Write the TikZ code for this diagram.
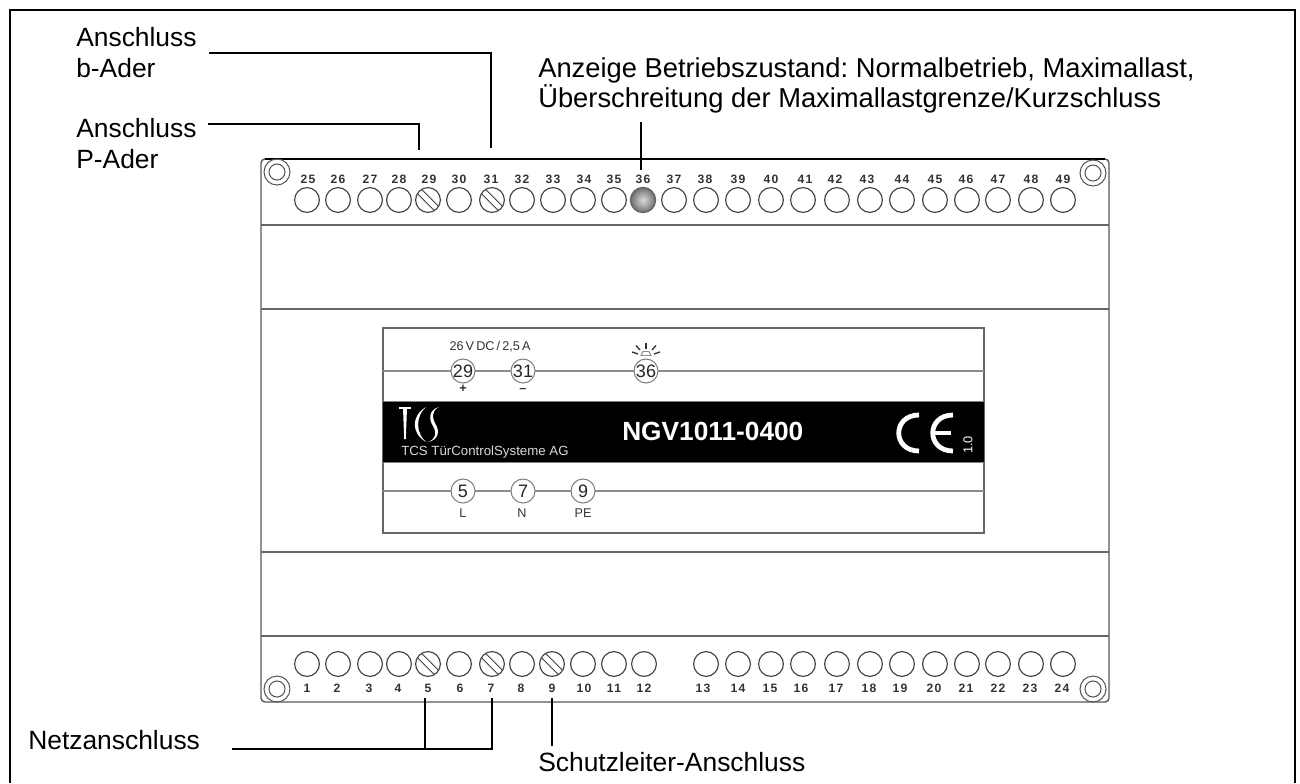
\documentclass[tikz,border=0pt]{standalone}
\usepackage{fontspec}
\setmainfont{Liberation Sans}
\newfontfamily\numf[LetterSpace=10.0]{Liberation Sans}
\tikzset{
  x=0.75pt,y=-0.75pt,
  caption/.style={anchor=north west,inner sep=0,align=left,font=\fontsize{19.8}{22.8}\selectfont},
  leader/.style={line width=1.1pt,black},
  terminal/.style={circle,draw=black!75,line width=0.85pt,minimum size=18.6pt,inner sep=0},
  termno/.style={inner sep=0,anchor=base,font=\numf\bfseries\fontsize{9.1}{9}\selectfont,text=black!80},
  slot/.style={line width=0.7pt,black!75},
  sepline/.style={line width=1.05pt,black!60},
  panelline/.style={line width=0.8pt,black!45},
  panelcirc/.style={circle,draw=black!50,fill=white,line width=0.8pt,minimum size=18pt,inner sep=0,font=\fontsize{13.5}{13.5}\selectfont,text=black!85},
  paneltext/.style={inner sep=0,font=\fontsize{9.5}{10}\selectfont,text=black!80},
  hole/.style={circle,draw=black!65,line width=0.8pt,inner sep=0},
  logo/.style={draw=white,line width=1.2pt},
}
\newcommand{\slotlines}[1]{%
  \draw[slot] ([shift={(-6.5,-10.7)}]#1.center) -- ([shift={(10.7,6.5)}]#1.center);
  \draw[slot] ([shift={(-10.7,-6.5)}]#1.center) -- ([shift={(6.5,10.7)}]#1.center);
}
\begin{document}
\begin{tikzpicture}
\useasboundingbox (0,0) rectangle (1300,783);
\fill[white] (0,0) rectangle (1300,783);
% outer frame (open at the bottom)
\coordinate (fa) at (10,783);
\coordinate (fb) at (10,10);
\coordinate (fc) at (1295,10);
\coordinate (fd) at (1295,783);
\draw[line width=1.4pt,black] (fa) -- (fb) -- (fc) -- (fd);
% body
\draw[line width=1.05pt,black!65,rounded corners=3pt] (261,159) rectangle (1109,702);
\draw[line width=1.05pt,black] (265,159) -- (1105,159);
\draw[sepline] (261,225) -- (1109,225);
\draw[sepline] (261,309) -- (1109,309);
\draw[sepline] (261,552) -- (1109,552);
\draw[sepline] (261,636) -- (1109,636);
% mounting holes
\foreach \n/\x/\y in {a/277/172,b/1093/173,c/277/689,d/1093/689}{
  \node[hole,minimum size=19.5pt] (ho\n) at (\x,\y) {};
  \node[hole,minimum size=12pt] (hi\n) at (\x,\y) {};
}
% top terminals
\foreach \n/\x/\lx in {25/307/308,26/338/338,27/370/370,28/399/399,29/428/429,30/459/459,31/492/491,32/522/522,33/553/553,34/583/584,35/614/614,37/674/674,38/706/705,39/738/738,40/771/771,41/803/805,42/837/835,43/870/867,44/902/902,45/935/935,46/967/966,47/998/998,48/1031/1031,49/1063/1063}{
  \node[terminal] (t\n) at (\x,200) {};
  \node[termno] (n\n) at (\lx,183) {\n};
}
\node[termno] (n36) at (643,183) {36};
\shade[inner color=black!15,outer color=black!55] (643,200) circle (9.2pt);
\node[circle,draw=black!60,line width=1.2pt,minimum size=18.6pt,inner sep=0] (t36) at (643,200) {};
% bottom terminals
\foreach \n/\x/\lx in {1/307/307,2/338/337,3/370/369,4/399/398,5/428/428,6/459/460,7/492/491,8/522/521,9/552/552,10/583/584,11/614/614,12/644/644,13/706/703,14/738/738,15/771/770,16/803/801,17/837/836,18/870/869,19/902/900,20/935/934,21/967/966,22/998/998,23/1031/1030,24/1063/1062}{
  \node[terminal] (b\n) at (\x,664) {};
  \node[termno] (m\n) at (\lx,692) {\n};
}
\slotlines{t29}\slotlines{t31}\slotlines{b5}\slotlines{b7}\slotlines{b9}
% label panel
\draw[line width=0.9pt,black!60] (383,328) rectangle (984,533);
\draw[panelline] (383,371) -- (984,371);
\draw[panelline] (383,491) -- (984,491);
\fill[black] (383,401) rectangle (984,462);
\draw[line width=0.6pt,black!50] (383,401) -- (984,401) (383,462) -- (984,462);
\node[panelcirc] (p29) at (463,371) {29};
\node[panelcirc] (p31) at (523,371) {31};
\node[panelcirc] (p36) at (646,371) {36};
\node[panelcirc] (p5) at (463,491) {5};
\node[panelcirc] (p7) at (523,491) {7};
\node[panelcirc] (p9) at (583,491) {9};
\node[paneltext,anchor=base] (volt) at (490,350) {26\,V\,DC\,/\,2,5\,A};
\node[paneltext,font=\bfseries\fontsize{9.5}{10}\selectfont] (plus) at (463,389) {+};
\node[paneltext,font=\bfseries\fontsize{9.5}{10}\selectfont] (minus) at (523,390) {–};
\node[paneltext,anchor=base] (lL) at (463,517) {L};
\node[paneltext,anchor=base] (lN) at (522,517) {N};
\node[paneltext,anchor=base] (lPE) at (583,517) {PE};
% lamp symbol
\draw[line width=0.7pt,black!45] (641,355.5) -- (643,351.5) -- (649,351.5) -- (651,355.5) -- cycle;
\draw[line width=1pt,black!80] (646,343) -- (646,349);
\draw[line width=1pt,black!80] (636,345.5) -- (640,350);
\draw[line width=1pt,black!80] (656,345.5) -- (652,350);
\draw[line width=1pt,black!80] (632,352) -- (638,354);
\draw[line width=1pt,black!80] (660,352) -- (654,354);
% logo and band text
\draw[logo] (399,408) -- (411,408);
\fill[white] (403,408) -- (407,408) -- (405.8,439) -- (404.2,439) -- cycle;
\fill[white] (426,407) .. controls (411,416) and (411,433) .. (426,442) .. controls (415.5,433) and (415.5,416) .. (426,407) -- cycle;
\fill[white] (439,407) .. controls (428,410) and (429,420) .. (433,426) .. controls (437,433) and (436,439) .. (428,442) .. controls (438,440) and (440,432) .. (436,425) .. controls (432,418) and (431,411) .. (439,407) -- cycle;
\node[inner sep=0,anchor=base west,text=black!15,font=\fontsize{9.95}{10}\selectfont] (firm) at (401,455) {TCS TürControlSysteme AG};
\node[inner sep=0,anchor=base west,text=white,font=\bfseries\fontsize{19.7}{20}\selectfont] (model) at (622,440) {NGV1011-0400};
\draw[white,line width=3.6pt] (919,415) .. controls (892,415) and (892,451) .. (919,451);
\draw[white,line width=3.6pt] (953,415) .. controls (926,415) and (926,451) .. (953,451);
\draw[white,line width=2.6pt] (933,433) -- (951,433);
\node[inner sep=0,rotate=90,text=white,font=\fontsize{9.6}{10}\selectfont] (rev) at (968,445) {1.0};
% captions
\node[caption,font=\fontsize{19.8}{23.2}\selectfont] (capb) at (76,27) {Anschluss\\b-Ader};
\node[caption] (capp) at (76,118.5) {Anschluss\\P-Ader};
\node[caption,font=\frenchspacing\fontsize{20.5}{22.6}\selectfont] (capled) at (538,57) {Anzeige Betriebszustand: Normalbetrieb, Maximallast,\\Überschreitung der Maximallastgrenze/Kurzschluss};
\node[inner sep=0,anchor=base west,font=\fontsize{19.8}{22.8}\selectfont] (capn) at (28,749) {Netzanschluss};
\node[inner sep=0,anchor=base west,font=\fontsize{19.8}{22.8}\selectfont] (caps) at (538,771) {Schutzleiter-Anschluss};
% leaders
\coordinate (la) at (209,53); \coordinate (lb) at (491,53); \coordinate (lc) at (491,148);
\draw[leader] (la) -- (lb) -- (lc);
\coordinate (pa) at (208,124); \coordinate (pb) at (419,124); \coordinate (pc) at (419,150);
\draw[leader] (pa) -- (pb) -- (pc);
\coordinate (da) at (641,122); \coordinate (db) at (641,170);
\draw[leader,line width=1.5pt] (da) -- (db);
\coordinate (na) at (232,749); \coordinate (nb) at (492,749); \coordinate (nc) at (492,698);
\coordinate (nd) at (425,749); \coordinate (ne) at (425,698);
\draw[leader] (na) -- (nb) -- (nc);
\draw[leader] (nd) -- (ne);
\coordinate (sa) at (552,698); \coordinate (sb) at (552,746);
\draw[leader] (sa) -- (sb);
\end{tikzpicture}
\end{document}
